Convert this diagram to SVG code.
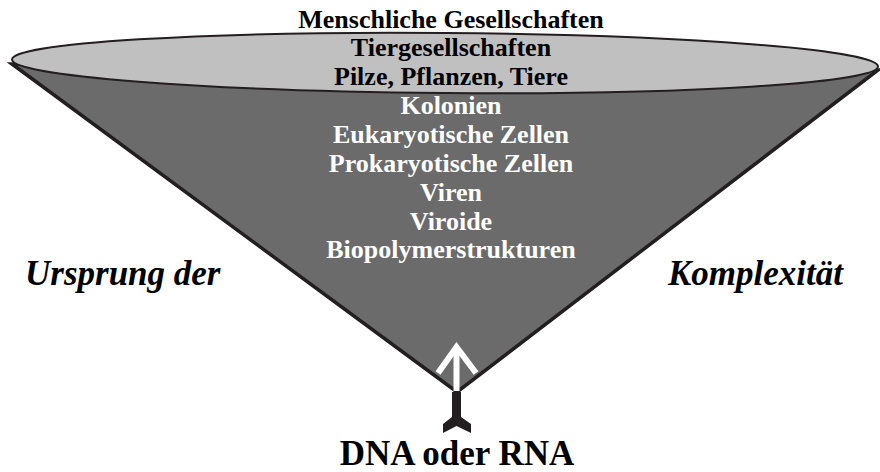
<svg xmlns="http://www.w3.org/2000/svg" width="880" height="472" viewBox="0 0 880 472">
<style>
.t{font-family:"Liberation Serif","Times New Roman",serif;font-weight:bold;text-anchor:middle;font-size:26px}
.b{fill:#000}
.w{fill:#fff}
.side{font-family:"Liberation Serif","Times New Roman",serif;font-weight:bold;font-style:italic;font-size:35px;fill:#000}
</style>
<rect width="880" height="472" fill="#fff"/>
<g id="cone">
<polygon points="12,64 457,392 878,70" fill="#6b6b6b" stroke="#231f20" stroke-width="3.5" stroke-linejoin="miter"/>
<ellipse cx="445" cy="63" rx="433" ry="30" transform="rotate(0.46 445 63)" fill="#c0c0c0" stroke="#231f20" stroke-width="2"/>
</g>
<g id="connectors">
<polygon points="452,392 461,392 461,417 471,424 471,433 456.5,426 443,433 443,424 452,417" fill="#231f20"/>
<g fill="none" stroke="#fff" stroke-width="6">
<line x1="456.5" y1="391" x2="456.5" y2="348"/>
<polyline points="438,373 456.5,347 476,373" stroke-linejoin="miter"/>
</g>
</g>
<g id="levels">
<text class="t b" x="451" y="28">Menschliche Gesellschaften</text>
<text class="t b" x="451" y="56">Tiergesellschaften</text>
<text class="t b" x="451" y="85">Pilze, Pflanzen, Tiere</text>
<text class="t w" x="451" y="114">Kolonien</text>
<text class="t w" x="451" y="143">Eukaryotische Zellen</text>
<text class="t w" x="451" y="172">Prokaryotische Zellen</text>
<text class="t w" x="451" y="201">Viren</text>
<text class="t w" x="451" y="230">Viroide</text>
<text class="t w" x="451" y="258">Biopolymerstrukturen</text>
</g>
<g id="labels">
<text class="side" x="25" y="285">Ursprung der</text>
<text class="side" x="668" y="285">Komplexität</text>
<text id="dna" x="457" y="465" style="font-family:'Liberation Serif','Times New Roman',serif;font-weight:bold;font-size:35px;text-anchor:middle;fill:#000">DNA oder RNA</text>
</g>
</svg>
